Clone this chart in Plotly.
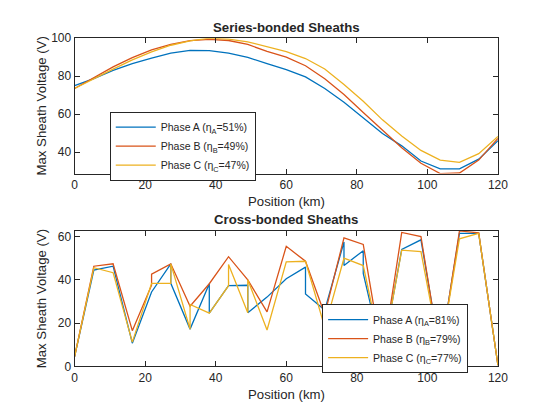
import plotly.graph_objects as go

# ---------------- data ----------------
node_km = [0, 5.45, 10.91, 16.36, 21.82, 27.27, 32.73, 38.18, 43.64, 49.09, 54.55,
           60.0, 65.45, 70.91, 76.36, 81.82, 87.27, 92.73, 98.18, 103.64, 109.09,
           114.55, 120.0]

# Series-bonded sheaths (V)
series_A = [75.0, 78.7, 83.1, 86.6, 89.5, 92.1, 93.6, 93.5, 92.2, 89.9, 86.6, 83.5,
            79.6, 73.5, 66.3, 57.8, 49.8, 43.3, 35.3, 31.2, 31.2, 36.3, 46.0]
series_B = [73.5, 79.0, 84.9, 89.8, 93.9, 96.8, 98.7, 99.4, 98.8, 96.7, 93.1, 90.0,
            85.5, 78.7, 70.4, 60.9, 51.5, 42.3, 34.1, 28.7, 29.0, 35.8, 47.2]
series_C = [73.5, 78.8, 83.7, 88.6, 92.8, 96.3, 98.6, 100.0, 99.5, 98.1, 95.5, 92.9,
            89.3, 83.8, 75.6, 66.8, 57.0, 48.5, 40.9, 35.8, 34.6, 39.2, 48.2]

# Cross-bonded sheaths: node index (repeated at cross-bond jumps) and voltage (V)
cross_A_node = [0, 1, 2, 3, 4, 5, 5, 6, 7, 7, 8, 9, 9, 10, 11, 12, 12, 13, 14, 14,
                15, 15, 16, 17, 18, 19, 20, 21, 22]
cross_A_val = [4.5, 44.5, 46.3, 10.7, 34.4, 47.4, 38.4, 17.2, 38.2, 24.6, 37.3, 37.5,
               24.8, 32.0, 40.5, 45.9, 33.5, 26.0, 57.5, 46.6, 53.5, 43.0, 5.0, 54.1,
               58.5, 6.0, 61.5, 61.5, 0.5]
cross_B_node = [0, 1, 2, 3, 4, 4, 5, 6, 7, 8, 9, 10, 11, 12, 13, 14, 15, 16, 17, 18,
                19, 20, 21, 22]
cross_B_val = [4.5, 46.3, 47.4, 16.5, 37.5, 42.6, 47.4, 27.8, 38.2, 50.7, 40.0, 25.2,
               55.5, 48.6, 24.0, 59.4, 56.4, 4.0, 61.9, 60.0, 5.0, 62.6, 61.7, 0.5]
cross_C_node = [0, 1, 2, 3, 4, 5, 5, 6, 6, 7, 8, 8, 9, 9, 10, 11, 12, 13, 14, 15, 16,
                17, 18, 19, 20, 21, 22]
cross_C_val = [4.5, 45.6, 43.3, 11.2, 38.4, 38.4, 47.4, 17.2, 28.6, 24.6, 37.3, 47.1,
               24.8, 40.0, 16.8, 48.3, 48.6, 18.0, 50.0, 46.6, 5.0, 53.7, 53.0, 6.0,
               59.0, 61.5, 0.5]

series_names = ["Phase A (η<sub>A</sub>=51%)", "Phase B (η<sub>B</sub>=49%)",
                "Phase C (η<sub>C</sub>=47%)"]
cross_names = ["Phase A (η<sub>A</sub>=81%)", "Phase B (η<sub>B</sub>=79%)",
               "Phase C (η<sub>C</sub>=77%)"]
x_ticks = [0, 20, 40, 60, 80, 100, 120]
series_yticks = [40, 60, 80, 100]
cross_yticks = [0, 20, 40, 60]

colors = ["#0072BD", "#D95319", "#EDB120"]
FONT = "Liberation Sans, Arial, sans-serif"
INK = "#262626"

fig = go.Figure()
for vals, name, col in zip([series_A, series_B, series_C], series_names, colors):
    fig.add_trace(go.Scatter(x=node_km, y=vals, mode="lines", name=name,
                             line=dict(color=col, width=1.3),
                             xaxis="x", yaxis="y", legend="legend"))

for nodes, vals, name, col in zip([cross_A_node, cross_B_node, cross_C_node],
                                  [cross_A_val, cross_B_val, cross_C_val],
                                  cross_names, colors):
    fig.add_trace(go.Scatter(x=[node_km[i] for i in nodes], y=vals, mode="lines",
                             name=name, line=dict(color=col, width=1.3),
                             xaxis="x2", yaxis="y2", legend="legend2"))

W, H = 560, 420
x0, x1 = 73.3 / W, 506.7 / W
top_dom = [(H - 172.3) / H, (H - 32.3) / H]
bot_dom = [(H - 371.7) / H, (H - 231.7) / H]

axis_style = dict(showline=True, mirror="ticks", linecolor=INK, linewidth=1,
                  ticks="inside", ticklen=5, tickcolor=INK, tickwidth=1,
                  tickfont=dict(family=FONT, size=12, color=INK),
                  showgrid=False, zeroline=False)

all_series = series_A + series_B + series_C
legend_style = dict(bordercolor=INK, borderwidth=1, bgcolor="white",
                    font=dict(family=FONT, size=10.5, color=INK),
                    xanchor="left", yanchor="top", itemwidth=40,
                    tracegroupgap=0)

fig.update_layout(
    autosize=True,
    margin=dict(l=0, r=0, t=0, b=0),
    paper_bgcolor="white", plot_bgcolor="white",
    font=dict(family=FONT, color=INK),
    xaxis=dict(domain=[x0, x1], anchor="y", range=[0, 120], tickvals=x_ticks, **axis_style),
    yaxis=dict(domain=top_dom, anchor="x", range=[min(all_series), max(all_series)],
               tickvals=series_yticks, **axis_style),
    xaxis2=dict(domain=[x0, x1], anchor="y2", range=[0, 120], tickvals=x_ticks, **axis_style),
    yaxis2=dict(domain=bot_dom, anchor="x2", range=[0, 62.6],
                tickvals=cross_yticks, **axis_style),
    legend=dict(x=109.3 / W, y=(H - 108.3) / H, **legend_style),
    legend2=dict(x=326.7 / W, y=(H - 307.3) / H, **legend_style),
    showlegend=True,
)

xc = (x0 + x1) / 2
ann = [
    dict(text="<b>Series-bonded Sheaths</b>", x=xc, y=(H - 21) / H),
    dict(text="<b>Cross-bonded Sheaths</b>", x=xc, y=(H - 220) / H),
    dict(text="Position (km)", x=xc, y=(H - 201) / H),
    dict(text="Position (km)", x=xc, y=(H - 401) / H),
    dict(text="Max Sheath Voltage (V)", x=39.5 / W, y=(H - 102.3) / H, textangle=-90),
    dict(text="Max Sheath Voltage (V)", x=39.5 / W, y=(H - 301.7) / H, textangle=-90),
]
for a in ann:
    fig.add_annotation(xref="paper", yref="paper", showarrow=False,
                       xanchor="center", yanchor="middle",
                       font=dict(family=FONT, size=13.2, color=INK), **a)

fig.write_html("out.html", config={"displayModeBar": False, "responsive": True},
               default_width="100vw", default_height="100vh")

# remove the default page margin so the figure fills the window exactly
with open("out.html", encoding="utf-8") as f:
    page = f.read()
page = page.replace("<head>", "<head><style>html,body{margin:0;padding:0;overflow:hidden;}</style>", 1)
with open("out.html", "w", encoding="utf-8") as f:
    f.write(page)
